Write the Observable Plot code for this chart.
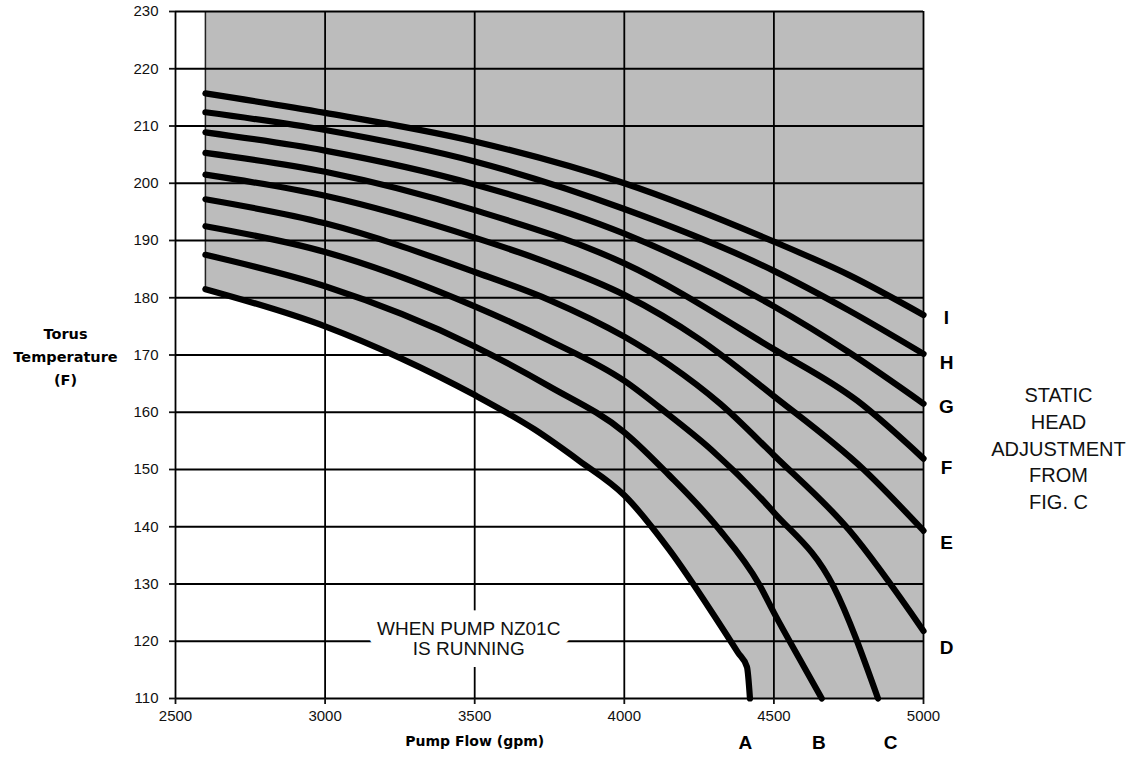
<!DOCTYPE html>
<html><head><meta charset="utf-8">
<script src="https://cdn.jsdelivr.net/npm/d3@7"></script>
<script src="https://cdn.jsdelivr.net/npm/@observablehq/plot@0.6"></script>
<style>
html,body{margin:0;padding:0;background:#fff;}
</style></head><body><div id="chart"></div>
<script>
// ---- data ----
const xTicks = [2500, 3000, 3500, 4000, 4500, 5000];
const yTicks = [110, 120, 130, 140, 150, 160, 170, 180, 190, 200, 210, 220, 230];

const curveA = [[2600,181.5],[3000,175],[3250,169.5],[3500,163],[3700,157],[3850,151.5],[4000,145.5],[4150,136],[4300,124.5],[4380,118],[4410,115.5],[4420,110]];
const curveB = [[2600,187.5],[3000,182],[3500,171.5],[3750,164.5],[4000,156.5],[4150,149],[4310,140],[4450,130],[4500,125],[4600,115.6],[4660,110]];
const curveC = [[2600,192.5],[3000,188],[3500,178.5],[3750,172.5],[4000,165.5],[4150,159.5],[4290,153.5],[4500,142.5],[4700,129.5],[4848,110]];
const curveD = [[2600,197.2],[3000,193],[3500,184.5],[3750,179.6],[4000,173.2],[4150,168.3],[4320,161.5],[4500,152.5],[4750,139.5],[5000,121.8]];
const curveE = [[2600,201.5],[3000,197.8],[3500,190.5],[3750,186],[4000,180.5],[4250,172.8],[4500,162.8],[4800,150],[5000,139.3]];
const curveF = [[2600,205.3],[3000,202],[3500,195.3],[4000,186],[4500,171],[4779,162],[5000,151.9]];
const curveG = [[2600,208.9],[3000,205.7],[3500,199.8],[4000,191.2],[4500,178.5],[4750,170.5],[5000,161.5]];
const curveH = [[2600,212.4],[3000,209.3],[3500,203.8],[4000,195.5],[4500,184.7],[4750,177.8],[5000,170.2]];
const curveI = [[2600,215.7],[3000,212.3],[3500,207.3],[4000,200],[4500,189.8],[4750,184],[5000,177]];

const rightLabels = [
  {label: "I", y: 176.4}, {label: "H", y: 168.7}, {label: "G", y: 161},
  {label: "F", y: 150.2}, {label: "E", y: 137.2}, {label: "D", y: 118.9}
];
const bottomLabels = [{label: "A", x: 4405}, {label: "B", x: 4650}, {label: "C", x: 4890}];
const note = [{x: 3480, y: 120.5, text: "WHEN PUMP NZ01C\nIS RUNNING"}];
const sideNote = ["STATIC\nHEAD\nADJUSTMENT\nFROM\nFIG. C"];
const xTitle = [{x: 3500, text: "Pump Flow (gpm)"}];
const yTitle = ["Torus\nTemperature\n(F)"];

// ---- build ----
const curves = [["A",curveA],["B",curveB],["C",curveC],["D",curveD],["E",curveE],["F",curveF],["G",curveG],["H",curveH],["I",curveI]];
const rows = curves.flatMap(([name, pts]) => pts.map(([x, y]) => ({curve: name, x, y})));
const yMin = yTicks[0], yMax = yTicks[yTicks.length - 1];
const fillRows = curveA.map(([x, y]) => ({x, y})).concat([{x: xTicks[xTicks.length - 1], y: yMin}]);

const arial = "'Liberation Sans', Arial, sans-serif";
const dejavu = "'DejaVu Sans', Verdana, sans-serif";

const chart = Plot.plot({
  width: 1141,
  height: 772,
  marginLeft: 175,
  marginRight: 218,
  marginTop: 11,
  marginBottom: 74,
  style: {fontFamily: arial, fontSize: "15px", background: "#fff", color: "#111"},
  x: {domain: [xTicks[0], xTicks[xTicks.length - 1]]},
  y: {domain: [yMin, yMax]},
  marks: [
    Plot.areaY(fillRows, {x: "x", y1: "y", y2: yMax, fill: "#bcbcbc", curve: "monotone-x"}),
    Plot.ruleX([curveA[0][0]], {y1: curveA[0][1], y2: yMax, stroke: "#222", strokeWidth: 1.5}),
    Plot.gridX(xTicks, {stroke: "#000", strokeOpacity: 1, strokeWidth: 1.8}),
    Plot.gridY(yTicks, {stroke: "#000", strokeOpacity: 1, strokeWidth: 1.8}),
    Plot.line(rows, {x: "x", y: "y", z: "curve", stroke: "#000", strokeWidth: 6.2, curve: "monotone-x", strokeLinejoin: "round"}),
    Plot.axisX(xTicks, {tickSize: 6, tickFormat: () => "", strokeWidth: 1.8, label: null}),
    Plot.axisY(yTicks, {tickSize: 6, tickFormat: () => "", strokeWidth: 1.8, label: null}),
    Plot.text(xTicks, {x: d => d, text: d => String(d), frameAnchor: "bottom", dy: 22, fontSize: 15, fill: "#111"}),
    Plot.text(yTicks, {y: d => d, text: d => String(d), frameAnchor: "left", textAnchor: "end", dx: -17, fontSize: 15, fill: "#111"}),
    Plot.text(note, {x: "x", y: "y", text: "text", fontSize: 19, lineHeight: 1.08, fill: "#fff", stroke: "#fff", strokeWidth: 24, strokeLinejoin: "round"}),
    Plot.text(note, {x: "x", y: "y", text: "text", fontSize: 19, lineHeight: 1.08, fill: "#111"}),
    Plot.text(rightLabels, {y: "y", text: "label", frameAnchor: "right", textAnchor: "middle", dx: 23, fontSize: 19, fontWeight: "bold", fill: "#000"}),
    Plot.text(bottomLabels, {x: "x", text: "label", frameAnchor: "bottom", dy: 50, fontSize: 19, fontWeight: "bold", fill: "#000"}),
    Plot.text(sideNote, {frameAnchor: "right", textAnchor: "middle", dx: 135, dy: 92, fontSize: 20, lineHeight: 1.33, fill: "#111"}),
    Plot.text(xTitle, {x: "x", text: "text", frameAnchor: "bottom", dy: 47, fontFamily: dejavu, fontWeight: "bold", fontSize: 14, fill: "#000"}),
    Plot.text(yTitle, {frameAnchor: "left", textAnchor: "middle", dx: -110, fontFamily: dejavu, fontWeight: "bold", fontSize: 14.5, lineHeight: 1.58, fill: "#000"})
  ]
});
document.getElementById("chart").appendChild(chart);
</script>
</body></html>
